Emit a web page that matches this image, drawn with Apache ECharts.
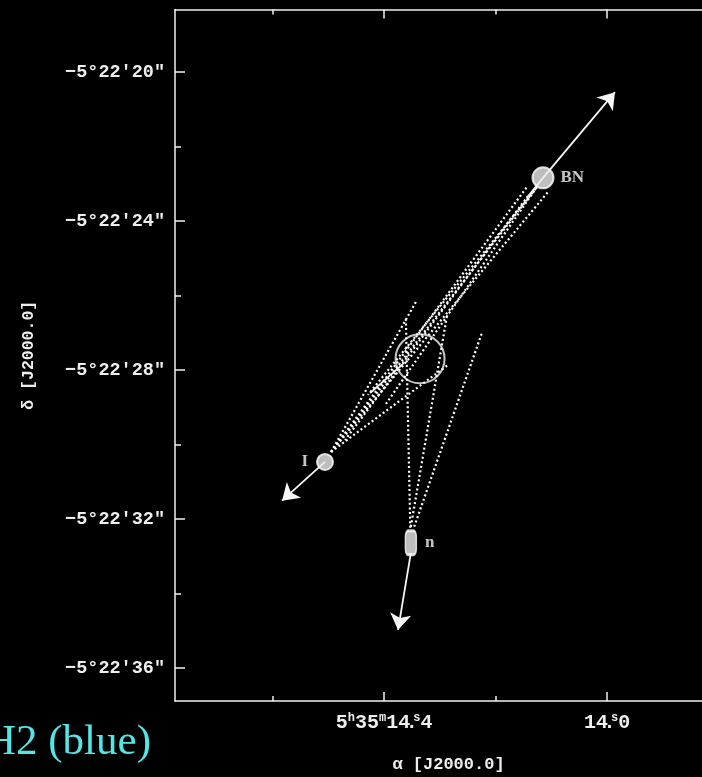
<!DOCTYPE html>
<html><head><meta charset="utf-8">
<script src="https://cdn.jsdelivr.net/npm/echarts@6/dist/echarts.min.js"></script>
<style>html,body{margin:0;padding:0;background:#000;overflow:hidden}#c{width:702px;height:777px}</style>
</head><body><div id="c"></div>
<script>
// Axis ranges (RA seconds of 5h35m, Dec arcsec of -5°22')
const raRange = [13.794, 14.775];
const decRange = [18.32, 36.89];
const raMajorTicks = [14.4, 14.0];
const raMinorTicks = [14.6, 14.2, 13.8];
const decMajorTicks = [20, 24, 28, 32, 36];
const decMinorTicks = [22, 26, 30, 34];

// Sources
const sourceNames = ['BN', 'I', 'n'];
const sourceRA = [14.115, 14.506, 14.352];
const sourceDec = [22.84, 30.47, 32.64];

// Proper-motion arrows
const motionFrom = [[14.115, 22.84], [14.506, 30.47], [14.352, 32.91]];
const motionTo = [[13.986, 20.54], [14.583, 31.51], [14.375, 34.98]];

// Solid segments
const solidFrom = [[14.115, 22.84], [14.425, 28.62]];
const solidTo = [[14.144, 23.38], [14.364, 27.81]];

// Dotted back-extrapolation cones
const dottedFrom = [
  [14.495, 30.20], [14.495, 30.20], [14.495, 30.20], [14.495, 30.20], [14.495, 30.20],
  [14.126, 23.09], [14.126, 23.09], [14.142, 23.33],
  [14.353, 32.24], [14.352, 32.21], [14.346, 32.21]
];
const dottedTo = [
  [14.126, 23.09], [14.341, 26.12], [14.285, 27.86], [14.106, 23.22], [14.144, 23.09],
  [14.429, 28.67], [14.398, 28.94], [14.470, 29.88],
  [14.361, 26.60], [14.287, 26.52], [14.224, 26.98]
];

// Common origin circle
const originRA = [14.3355];
const originDec = [27.70];

const chart = echarts.init(document.getElementById('c'), null, {renderer: 'canvas'});
const monoFont = '"Liberation Mono", "DejaVu Sans Mono", monospace';
const gridRect = {left: 175, top: 9.5, width: 547, height: 691.5, outerBoundsMode: 'none', containLabel: false};
const lineCol = '#f2f2f2';

function xAx(gridIndex, position, ticks, len, showLine, labels) {
  return {
    type: 'value', gridIndex, position, inverse: true,
    min: raRange[0], max: raRange[1],
    axisLine: {show: showLine, onZero: false, lineStyle: {color: lineCol, width: 1.5}},
    axisTick: {show: true, inside: true, length: len, customValues: ticks, lineStyle: {color: lineCol, width: 1.5}},
    axisLabel: labels ? {
      show: true, customValues: raMajorTicks, margin: 11,
      formatter: v => Math.abs(v - 14.4) < 1e-6
        ? '{n|5}{s|h}{n|35}{s|m}{n|14}{d|.}{s|s}{n|4}'
        : '{n|14}{d|.}{s|s}{n|0}',
      rich: {
        n: {fontFamily: monoFont, fontSize: 20, fontWeight: 'bold', color: '#eee', lineHeight: 22},
        d: {fontFamily: monoFont, fontSize: 20, fontWeight: 'bold', color: '#eee', lineHeight: 22, width: 3},
        s: {fontFamily: monoFont, fontSize: 12, fontWeight: 'bold', color: '#eee', lineHeight: 9, verticalAlign: 'top'}
      }
    } : {show: false},
    splitLine: {show: false},
    name: labels ? 'α [J2000.0]' : '',
    nameLocation: 'middle', nameGap: 55,
    nameTextStyle: {color: '#eee', fontFamily: monoFont, fontSize: 17, fontWeight: 'bold'}
  };
}
function yAx(gridIndex, ticks, len, showLine, labels) {
  return {
    type: 'value', gridIndex, position: 'left', inverse: true,
    min: decRange[0], max: decRange[1],
    axisLine: {show: showLine, onZero: false, lineStyle: {color: lineCol, width: 1.5}},
    axisTick: {show: true, inside: true, length: len, customValues: ticks, lineStyle: {color: lineCol, width: 1.5}},
    axisLabel: labels ? {
      show: true, customValues: decMajorTicks, margin: 10,
      color: '#eee', fontFamily: monoFont, fontSize: 18.5, fontWeight: 'bold',
      formatter: v => '\u22125\u00b022\u2032' + v + '\u2033'
    } : {show: false},
    splitLine: {show: false},
    name: labels ? 'δ [J2000.0]' : '',
    nameLocation: 'middle', nameGap: 138, nameRotate: 90,
    nameTextStyle: {color: '#eee', fontFamily: monoFont, fontSize: 16.5, fontWeight: 'bold'}
  };
}

const pairs = (a, b) => a.map((p, i) => ({coords: [p, b[i]]}));

chart.setOption({
  backgroundColor: '#000',
  animation: false,
  grid: [Object.assign({}, gridRect), Object.assign({}, gridRect)],
  xAxis: [
    xAx(0, 'bottom', raMajorTicks, 9, true, true),
    xAx(0, 'top', raMajorTicks, 9, true, false),
    xAx(1, 'bottom', raMinorTicks, 5, false, false),
    xAx(1, 'top', raMinorTicks, 5, false, false)
  ],
  yAxis: [
    yAx(0, decMajorTicks, 10, true, true),
    yAx(1, decMinorTicks, 6, false, false)
  ],
  graphic: [{
    type: 'text', x: -15, y: 721,
    style: {text: 'H2 (blue)', font: '43px "Liberation Serif", "Times New Roman", serif', fill: '#52e6e8', verticalAlign: 'top'}
  }],
  series: [
    {
      type: 'lines', coordinateSystem: 'cartesian2d', xAxisIndex: 0, yAxisIndex: 0,
      data: pairs(dottedFrom, dottedTo), symbol: 'none',
      lineStyle: {color: '#ffffff', width: 2.2, type: [2, 2.6], opacity: 1}
    },
    {
      type: 'lines', coordinateSystem: 'cartesian2d', xAxisIndex: 0, yAxisIndex: 0,
      data: pairs(solidFrom, solidTo), symbol: 'none',
      lineStyle: {color: '#f4f4f4', width: 1.8, opacity: 1}
    },
    {
      type: 'lines', coordinateSystem: 'cartesian2d', xAxisIndex: 0, yAxisIndex: 0,
      data: pairs(motionFrom, motionTo), symbol: ['none', 'arrow'], symbolSize: [0, 16],
      lineStyle: {color: '#f6f6f6', width: 1.8, opacity: 1}
    },
    {
      type: 'scatter', xAxisIndex: 0, yAxisIndex: 0,
      data: originRA.map((x, i) => [x, originDec[i]]),
      symbol: 'circle', symbolSize: 49,
      itemStyle: {color: 'rgba(0,0,0,0)', borderColor: '#f6f6f6', borderWidth: 2}
    },
    {
      type: 'scatter', xAxisIndex: 0, yAxisIndex: 0,
      data: sourceNames.map((nm, i) => ({
        name: nm, value: [sourceRA[i], sourceDec[i]],
        symbol: nm === 'n' ? 'roundRect' : 'circle',
        symbolSize: nm === 'BN' ? 21 : (nm === 'I' ? 16 : [11, 24]),
        label: {position: nm === 'I' ? 'left' : 'right', distance: nm === 'BN' ? 6 : 8}
      })),
      itemStyle: {color: '#eeeeee', borderColor: '#ffffff', borderWidth: 2},
      label: {
        show: true, formatter: p => p.name, color: '#f6f6f6',
        fontFamily: '"Liberation Serif", serif', fontSize: 17, fontWeight: 'bold'
      }
    }
  ]
});
</script></body></html>
